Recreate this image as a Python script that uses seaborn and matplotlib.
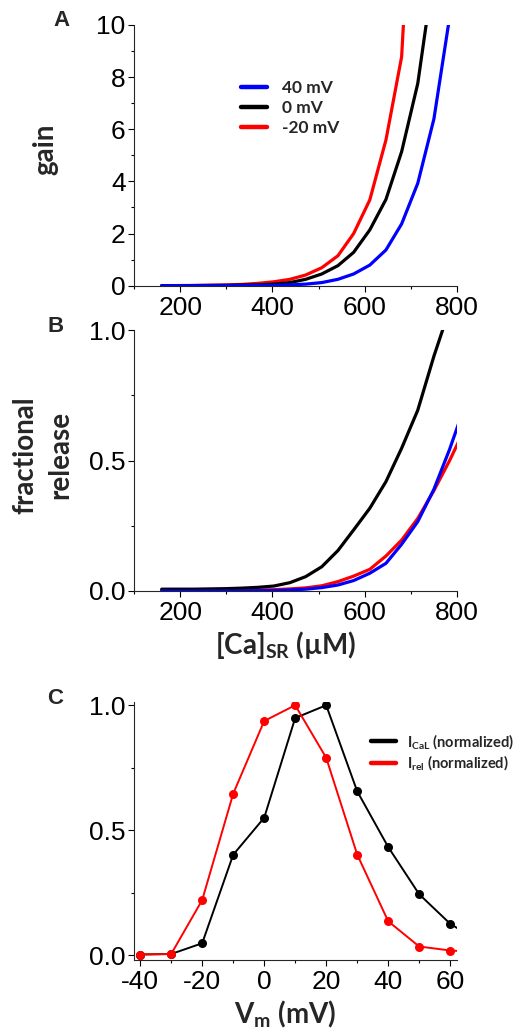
import matplotlib
matplotlib.use("Agg")
import matplotlib.pyplot as plt
import seaborn as sns
import pandas as pd
from matplotlib.lines import Line2D
from matplotlib.ticker import MultipleLocator

# [Ca]SR grid (uM) shared by panels A and B
ca_sr = [160, 195, 229, 264, 299, 334, 368, 403, 438, 472,
         507, 542, 576, 611, 646, 680, 715, 750, 784, 819]

# panel A: gain
gain_40 = [0.0, 0.0, 0.0, 0.0, 0.0, 0.005, 0.01, 0.015, 0.03, 0.06,
           0.12, 0.245, 0.45, 0.79, 1.37, 2.37, 3.93, 6.4, 10.3, 16.0]
gain_0 = [0.0, 0.0, 0.005, 0.01, 0.015, 0.025, 0.035, 0.06, 0.12, 0.245,
          0.45, 0.77, 1.28, 2.14, 3.31, 5.14, 7.76, 12.1, 19.0, 28.0]
gain_m20 = [0.003, 0.005, 0.01, 0.02, 0.03, 0.05, 0.09, 0.15, 0.245, 0.41,
            0.69, 1.15, 2.0, 3.29, 5.59, 8.78, 20.0, 30.0, 45.0, 60.0]

# panel B: fractional release
rel_40 = [0.0, 0.0, 0.0, 0.0, 0.0, 0.0, 0.001, 0.002, 0.004, 0.007,
          0.013, 0.023, 0.04, 0.068, 0.106, 0.179, 0.266, 0.39, 0.543, 0.72]
rel_0 = [0.007, 0.007, 0.007, 0.008, 0.009, 0.011, 0.014, 0.019, 0.032, 0.055,
         0.093, 0.155, 0.234, 0.317, 0.419, 0.547, 0.693, 0.90, 1.08, 1.3]
rel_m20 = [0.002, 0.002, 0.002, 0.002, 0.003, 0.003, 0.004, 0.005, 0.008, 0.012,
           0.02, 0.036, 0.057, 0.083, 0.134, 0.195, 0.278, 0.385, 0.50, 0.63]

# panel C: normalized currents vs membrane potential
vm = [-40, -30, -20, -10, 0, 10, 20, 30, 40, 50, 60, 70]
i_cal = [0.003, 0.005, 0.048, 0.402, 0.55, 0.949, 1.0, 0.656, 0.433, 0.244, 0.126, 0.05]
i_rel = [0.003, 0.005, 0.221, 0.646, 0.937, 1.0, 0.79, 0.403, 0.136, 0.035, 0.019, 0.012]

series_names = ['40 mV', '0 mV', '-20 mV']
series_colors = ['#0000ff', 'black', '#ff0000']

sns.set_style("ticks")
plt.rcParams['font.family'] = ['Liberation Sans', 'DejaVu Sans']
plt.rcParams['axes.unicode_minus'] = False
plt.rcParams['mathtext.fontset'] = 'custom'
plt.rcParams['mathtext.bf'] = 'Lato:bold'
plt.rcParams['mathtext.rm'] = 'Lato'
plt.rcParams['mathtext.default'] = 'bf'

W, H = 523, 1032
fig = plt.figure(figsize=(W / 100, H / 100), dpi=100)


def px_axes(left, top, right, bottom):
    return fig.add_axes([left / W, 1 - bottom / H, (right - left) / W, (bottom - top) / H])


ax_a = px_axes(134, 25, 457, 285.7)
ax_b = px_axes(134, 330, 457, 591)
ax_c = px_axes(134, 702, 457, 960)

gain_df = pd.DataFrame({
    'ca': ca_sr * 3,
    'value': gain_40 + gain_0 + gain_m20,
    'trace': [series_names[0]] * len(ca_sr) + [series_names[1]] * len(ca_sr) + [series_names[2]] * len(ca_sr),
})
rel_df = pd.DataFrame({
    'ca': ca_sr * 3,
    'value': rel_40 + rel_0 + rel_m20,
    'trace': [series_names[0]] * len(ca_sr) + [series_names[1]] * len(ca_sr) + [series_names[2]] * len(ca_sr),
})
palette = dict(zip(series_names, series_colors))

sns.lineplot(data=gain_df, x='ca', y='value', hue='trace', palette=palette,
             hue_order=['-20 mV', '0 mV', '40 mV'], linewidth=2.3, legend=False, ax=ax_a)
sns.lineplot(data=rel_df, x='ca', y='value', hue='trace', palette=palette,
             hue_order=['-20 mV', '0 mV', '40 mV'], linewidth=2.3, legend=False, ax=ax_b)

sns.lineplot(x=vm, y=i_cal, color='black', marker='o', markersize=6.5, mec='black',
             mew=0, linewidth=1.4, ax=ax_c)
sns.lineplot(x=vm, y=i_rel, color='#ff0000', marker='o', markersize=6.5, mec='#ff0000',
             mew=0, linewidth=1.4, ax=ax_c)

tick_fs = 19
for ax in (ax_a, ax_b, ax_c):
    sns.despine(ax=ax)
    ax.spines['left'].set_linewidth(0.8)
    ax.spines['bottom'].set_linewidth(0.8)
    ax.tick_params(which='major', direction='out', length=4.5, width=0.8,
                   labelsize=tick_fs, pad=1.5, colors='black')
    ax.tick_params(which='minor', direction='out', length=2.5, width=0.8, colors='black')
    ax.set_xlabel('')
    ax.set_ylabel('')
    ax.tick_params(axis='x', pad=3)

ax_a.set_xlim(100, 800)
ax_a.set_ylim(0, 10)
ax_a.xaxis.set_major_locator(MultipleLocator(200))
ax_a.xaxis.set_minor_locator(MultipleLocator(100))
ax_a.yaxis.set_major_locator(MultipleLocator(2))
ax_a.yaxis.set_minor_locator(MultipleLocator(1))

ax_b.set_xlim(100, 800)
ax_b.set_ylim(0, 1.0)
ax_b.xaxis.set_major_locator(MultipleLocator(200))
ax_b.xaxis.set_minor_locator(MultipleLocator(100))
ax_b.yaxis.set_major_locator(MultipleLocator(0.5))
ax_b.yaxis.set_minor_locator(MultipleLocator(0.25))
ax_b.yaxis.set_major_formatter(lambda v, p: f'{v:.1f}')

ax_c.set_xlim(-42, 62.2)
ax_c.set_ylim(-0.019, 1.013)
ax_c.xaxis.set_major_locator(MultipleLocator(20))
ax_c.xaxis.set_minor_locator(MultipleLocator(10))
ax_c.yaxis.set_major_locator(MultipleLocator(0.5))
ax_c.yaxis.set_minor_locator(MultipleLocator(0.25))
ax_c.yaxis.set_major_formatter(lambda v, p: f'{v:.1f}')

# legends
leg_a = [Line2D([], [], color=c, lw=3.2) for c in series_colors]
ax_a.legend(leg_a, series_names, loc='upper left', bbox_to_anchor=(0.33, 0.79),
            frameon=False, handlelength=1.5, handletextpad=0.9, labelspacing=0.25,
            borderpad=0, borderaxespad=0, prop={'family': 'Lato', 'weight': 'bold', 'size': 12.5})

leg_c = [Line2D([], [], color='black', lw=3.2), Line2D([], [], color='#ff0000', lw=3.2)]
ax_c.legend(leg_c, [r'I$_{CaL}$ (normalized)', r'I$_{rel}$ (normalized)'],
            loc='upper left', bbox_to_anchor=(0.735, 0.885), frameon=False,
            handlelength=1.7, handletextpad=0.75, labelspacing=0.2,
            borderpad=0, borderaxespad=0,
            prop={'family': 'Lato', 'weight': 'bold', 'size': 10.5})

lab = dict(family='Lato', fontweight='bold', fontsize=20)
fig.text(45 / W, 1 - 149 / H, 'gain', rotation=90, ha='center', va='center', **lab)
fig.text(43 / W, 1 - 455 / H, 'fractional\nrelease', rotation=90, ha='center', va='center',
         multialignment='center', linespacing=1.45, **lab)
fig.text(286 / W, 1 - 654 / H, r'[Ca]$_{SR}$ (µM)', ha='center', va='baseline', **lab)
fig.text(285 / W, 1 - 1023 / H, r'V$_{m}$ (mV)', ha='center', va='baseline', **lab)

for letter, x, y in [('A', 61, 20), ('B', 55.5, 326), ('C', 55, 698.5)]:
    fig.text(x / W, 1 - y / H, letter, ha='center', va='center', fontsize=16, fontweight='bold')

fig.savefig('out.png', dpi=100)
